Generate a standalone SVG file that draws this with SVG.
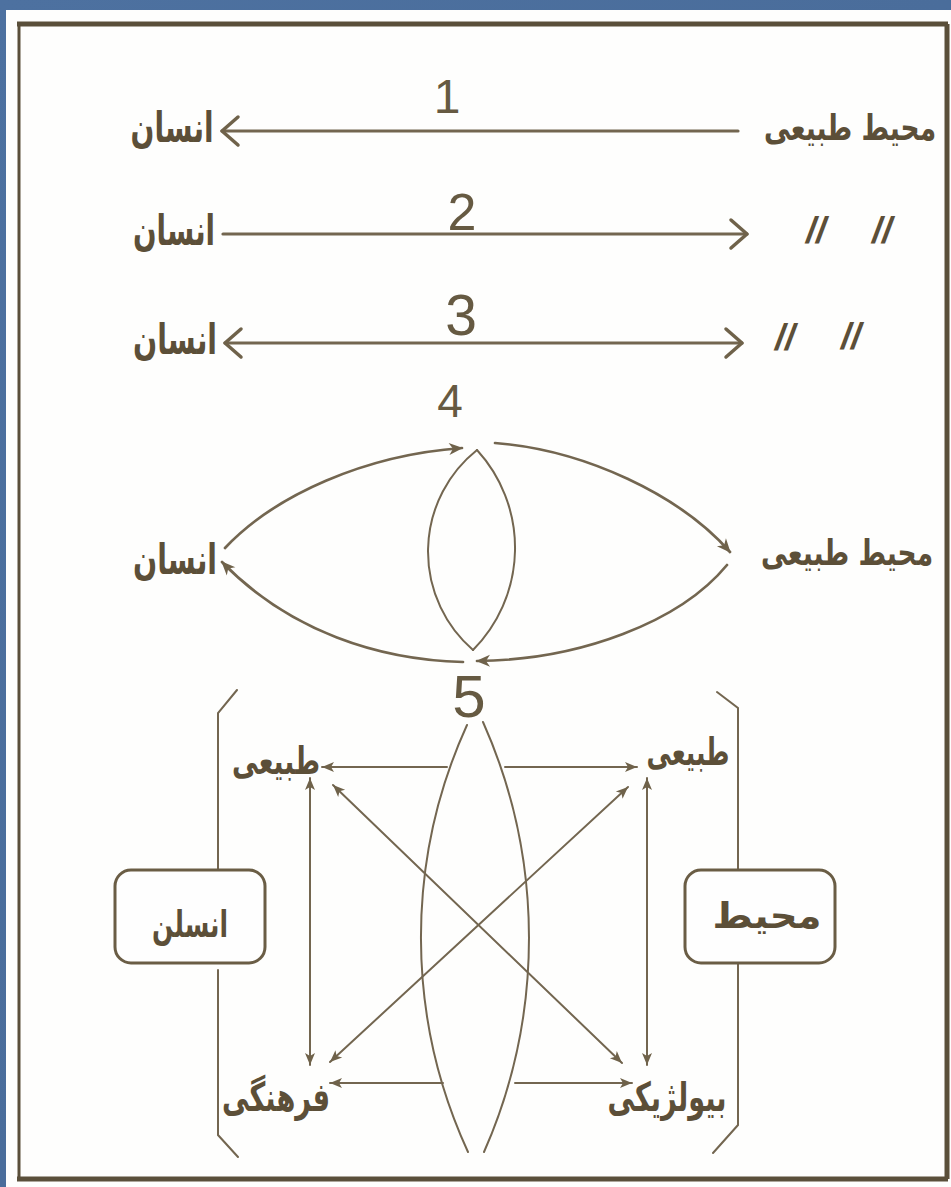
<svg xmlns="http://www.w3.org/2000/svg" width="951" height="1187" viewBox="0 0 951 1187">
<defs>
<linearGradient id="bg" x1="0" y1="0" x2="1" y2="1">
<stop offset="0" stop-color="#4d71a0"/>
<stop offset="0.5" stop-color="#4a6d9b"/>
<stop offset="1" stop-color="#446793"/>
</linearGradient>
<marker id="chev" markerUnits="userSpaceOnUse" markerWidth="22" markerHeight="34" viewBox="0 0 22 34" refX="19" refY="17" orient="auto-start-reverse">
<path d="M3,3 L19,17 L3,31" fill="none" stroke="#6f624a" stroke-width="3.5" stroke-linecap="round" stroke-linejoin="round"/>
</marker>
<marker id="barb" markerUnits="userSpaceOnUse" markerWidth="16" markerHeight="14" viewBox="0 0 16 14" refX="14" refY="7" orient="auto-start-reverse">
<path d="M1,1 L15,7 L1,13 L5,7 Z" fill="#6f624a"/>
</marker>
<marker id="tri" markerUnits="userSpaceOnUse" markerWidth="14" markerHeight="12" viewBox="0 0 14 12" refX="13" refY="6" orient="auto-start-reverse">
<path d="M1,1 L13,6 L1,11 L4,6 Z" fill="#6f624a"/>
</marker>
</defs>
<style>
.ar{font-family:"DejaVu Sans","Noto Sans Arabic",sans-serif;font-weight:bold;fill:#5c4f38;text-anchor:middle}
.num{font-family:"Liberation Sans",Arial,sans-serif;fill:#665a42;text-anchor:middle}
.dit{font-family:"Liberation Sans",Arial,sans-serif;font-weight:bold;font-style:italic;fill:#5c4f38;text-anchor:middle;font-size:36px}
.ln{fill:none;stroke:#736650;stroke-linecap:round}
.thick{stroke-width:3.2}
.mid{stroke-width:2.7}
.thin{stroke-width:2}
.box{fill:#fefefe;stroke:#6a5d45;stroke-width:3}
.frame{stroke:#5a4f3a;fill:none}
</style>
<rect x="0" y="0" width="951" height="1187" fill="url(#bg)"/>
<rect x="6" y="10" width="945" height="1177" fill="#fefefd"/>
<g id="frame">
<line class="frame" x1="17" y1="24" x2="948" y2="24" stroke-width="5"/>
<line class="frame" x1="19" y1="24" x2="19" y2="1179" stroke-width="3"/>
<line class="frame" x1="947" y1="24" x2="947" y2="1179" stroke-width="5"/>
<line class="frame" x1="17" y1="1179" x2="948" y2="1179" stroke-width="5"/>
</g>

<g id="connectors">
<line class="ln thick" x1="738" y1="131" x2="222" y2="131" marker-end="url(#chev)"/>
<line class="ln thick" x1="223" y1="234" x2="747" y2="234" marker-end="url(#chev)"/>
<line class="ln thick" x1="225" y1="343" x2="742" y2="343" marker-start="url(#chev)" marker-end="url(#chev)"/>

<path class="ln mid" d="M225,548 C275,495 365,455 462,448" marker-end="url(#barb)"/>
<path class="ln mid" d="M495,443 C585,450 680,495 730,552" marker-end="url(#barb)"/>
<path class="ln mid" d="M727,565 C680,622 580,660 477,661" marker-end="url(#barb)"/>
<path class="ln mid" d="M463,662 C380,660 290,632 222,562" marker-end="url(#barb)"/>

<path class="ln thin" d="M477,450 A130,130 0 0 0 473,650"/>
<path class="ln thin" d="M477,450 A145,145 0 0 1 473,650"/>

<path class="ln thin" d="M467,725 A513,513 0 0 0 468,1152"/>
<path class="ln thin" d="M483,722 A531,531 0 0 1 484,1152"/>

<line class="ln thin" x1="447" y1="767" x2="322" y2="767" marker-end="url(#tri)"/>
<line class="ln thin" x1="505" y1="767" x2="637" y2="767" marker-end="url(#tri)"/>
<line class="ln thin" x1="310" y1="778" x2="310" y2="1065" marker-start="url(#tri)" marker-end="url(#tri)"/>
<line class="ln thin" x1="647" y1="778" x2="647" y2="1065" marker-start="url(#tri)" marker-end="url(#tri)"/>
<line class="ln thin" x1="333" y1="785" x2="622" y2="1063" marker-start="url(#tri)" marker-end="url(#tri)"/>
<line class="ln thin" x1="330" y1="1062" x2="628" y2="787" marker-start="url(#tri)" marker-end="url(#tri)"/>
<line class="ln thin" x1="443" y1="1083" x2="330" y2="1083" marker-end="url(#tri)"/>
<line class="ln thin" x1="515" y1="1083" x2="632" y2="1083" marker-end="url(#tri)"/>

<path class="ln thin" d="M237,690 L218,713 L218,870"/>
<path class="ln thin" d="M218,970 L218,1135 L238,1157"/>
<path class="ln thin" d="M717,692 L738,708 L738,870"/>
<path class="ln thin" d="M738,963 L738,1125 L713,1153"/>
</g>

<g id="label-1"><text class="num" x="447" y="113" font-size="48">1</text></g>
<g id="label-2"><text class="num" x="462" y="230" font-size="52">2</text></g>
<g id="label-3"><text class="num" x="461" y="335" font-size="57">3</text></g>
<g id="label-4"><text class="num" x="450" y="417" font-size="46">4</text></g>
<g id="label-5"><text class="num" x="469" y="717" font-size="60">5</text></g>

<g id="row1-ensan"><text class="ar" x="172" y="142" font-size="42" textLength="83" lengthAdjust="spacingAndGlyphs">انسان</text></g>
<g id="row1-mohit"><text class="ar" transform="translate(850,140) scale(1,1.35)" x="0" y="0" font-size="26.5">محیط طبیعی</text></g>
<g id="row2-ensan"><text class="ar" x="174" y="245" font-size="42" textLength="82" lengthAdjust="spacingAndGlyphs">انسان</text></g>
<g id="row2-ditto">
<text class="dit" x="816" y="243">//</text>
<text class="dit" x="882" y="243">//</text>
</g>
<g id="row3-ensan"><text class="ar" x="175" y="354" font-size="42" textLength="84" lengthAdjust="spacingAndGlyphs">انسان</text></g>
<g id="row3-ditto">
<text class="dit" x="785" y="350">//</text>
<text class="dit" x="851" y="349">//</text>
</g>
<g id="row4-ensan"><text class="ar" x="175" y="574" font-size="42" textLength="84" lengthAdjust="spacingAndGlyphs">انسان</text></g>
<g id="row4-mohit"><text class="ar" transform="translate(847,565) scale(1,1.35)" x="0" y="0" font-size="26.5">محیط طبیعی</text></g>

<g id="tabiei-left"><text class="ar" x="276" y="774" font-size="38" textLength="88" lengthAdjust="spacingAndGlyphs">طبیعی</text></g>
<g id="tabiei-right"><text class="ar" x="688" y="765" font-size="38" textLength="83" lengthAdjust="spacingAndGlyphs">طبیعی</text></g>
<g id="farhangi"><text class="ar" x="276" y="1111" font-size="40" textLength="108" lengthAdjust="spacingAndGlyphs">فرهنگی</text></g>
<g id="biology"><text class="ar" x="667" y="1111" font-size="40" textLength="119" lengthAdjust="spacingAndGlyphs">بیولژیکی</text></g>

<g id="box-ensan">
<rect class="box" x="115" y="870" width="150" height="93" rx="16"/>
<text class="ar" x="190" y="937" font-size="37" textLength="76" lengthAdjust="spacingAndGlyphs">انسلن</text>
</g>
<g id="box-mohit">
<rect class="box" x="685" y="870" width="150" height="93" rx="16"/>
<text class="ar" x="767" y="928" font-size="36" textLength="109" lengthAdjust="spacingAndGlyphs">محیط</text>
</g>
</svg>
